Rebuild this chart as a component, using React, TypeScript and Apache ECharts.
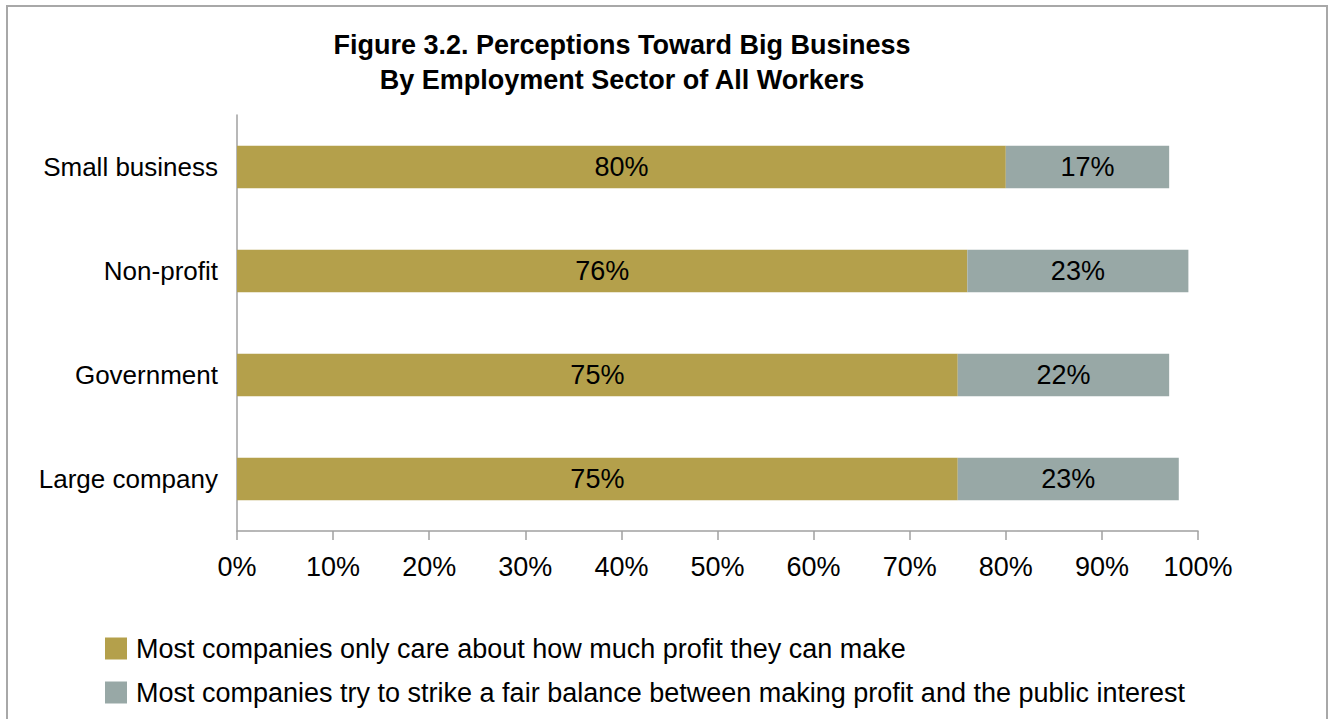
import React, { useEffect, useRef } from "react";
import * as echarts from "echarts";

const categories = ["Small business", "Non-profit", "Government", "Large company"];
const profitOnly = [80, 76, 75, 75];
const fairBalance = [17, 23, 22, 23];
const seriesNames = [
  "Most companies only care about how much profit they can make",
  "Most companies try to strike a fair balance between making profit and the public interest",
];
const titleLines = ["Figure 3.2. Perceptions Toward Big Business", "By Employment Sector of All Workers"];

const FONT = "'Liberation Sans', Arial, sans-serif";

export default function App() {
  const ref = useRef<HTMLDivElement>(null);
  useEffect(() => {
    if (!ref.current) return;
    const chart = echarts.init(ref.current, null, { renderer: "svg" });
    const labelCfg = {
      show: true,
      position: "inside",
      color: "#000",
      fontSize: 27,
      fontFamily: FONT,
      formatter: (p: any) => p.value + "%",
    };
    const legendBase = {
      orient: "horizontal",
      left: 100,
      itemWidth: 22,
      itemHeight: 22,
      itemGap: 10,
      icon: "rect",
      textStyle: { fontSize: 27, color: "#000", fontFamily: FONT, padding: [0, 0, 0, 4] },
    };
    chart.setOption({
      animation: false,
      backgroundColor: "#fff",
      textStyle: { fontFamily: FONT },
      title: {
        text: titleLines.join("\n"),
        left: 617,
        top: 22,
        textAlign: "center",
        textStyle: { fontSize: 27, fontWeight: "bold", color: "#000", lineHeight: 35, fontFamily: FONT },
      },
      graphic: [
        {
          type: "rect",
          shape: { x: 7, y: 6, width: 1320, height: 800 },
          style: { fill: "none", stroke: "#a8a8a8", lineWidth: 2 },
          silent: true,
        },
      ],
      legend: [
        { ...legendBase, top: 630, data: [seriesNames[0]] },
        { ...legendBase, top: 674, data: [seriesNames[1]] },
      ],
      grid: { left: 237, right: 132, top: 115, bottom: 188, containLabel: false },
      xAxis: {
        type: "value",
        min: 0,
        max: 100,
        interval: 10,
        axisLine: { show: true, lineStyle: { color: "#a0a0a0", width: 1.5 } },
        axisTick: { show: true, length: 9, lineStyle: { color: "#a0a0a0", width: 1.5 } },
        splitLine: { show: false },
        axisLabel: { formatter: "{value}%", fontSize: 27, color: "#000", margin: 22, fontFamily: FONT },
      },
      yAxis: {
        type: "category",
        data: categories,
        inverse: true,
        axisLine: { show: true, lineStyle: { color: "#a0a0a0", width: 1.5 } },
        axisTick: { show: false },
        axisLabel: { fontSize: 26, color: "#000", margin: 19, fontFamily: FONT },
      },
      series: [
        {
          name: seriesNames[0],
          type: "bar",
          stack: "total",
          data: profitOnly,
          barWidth: "41%",
          itemStyle: { color: "#B4A04B" },
          label: labelCfg,
        },
        {
          name: seriesNames[1],
          type: "bar",
          stack: "total",
          data: fairBalance,
          barWidth: "41%",
          itemStyle: { color: "#98A8A6" },
          label: labelCfg,
        },
      ],
    });
    return () => chart.dispose();
  }, []);
  return (
    <div
      ref={ref}
      style={{ position: "absolute", left: 0, top: 0, width: 1330, height: 719, background: "#fff" }}
    />
  );
}
